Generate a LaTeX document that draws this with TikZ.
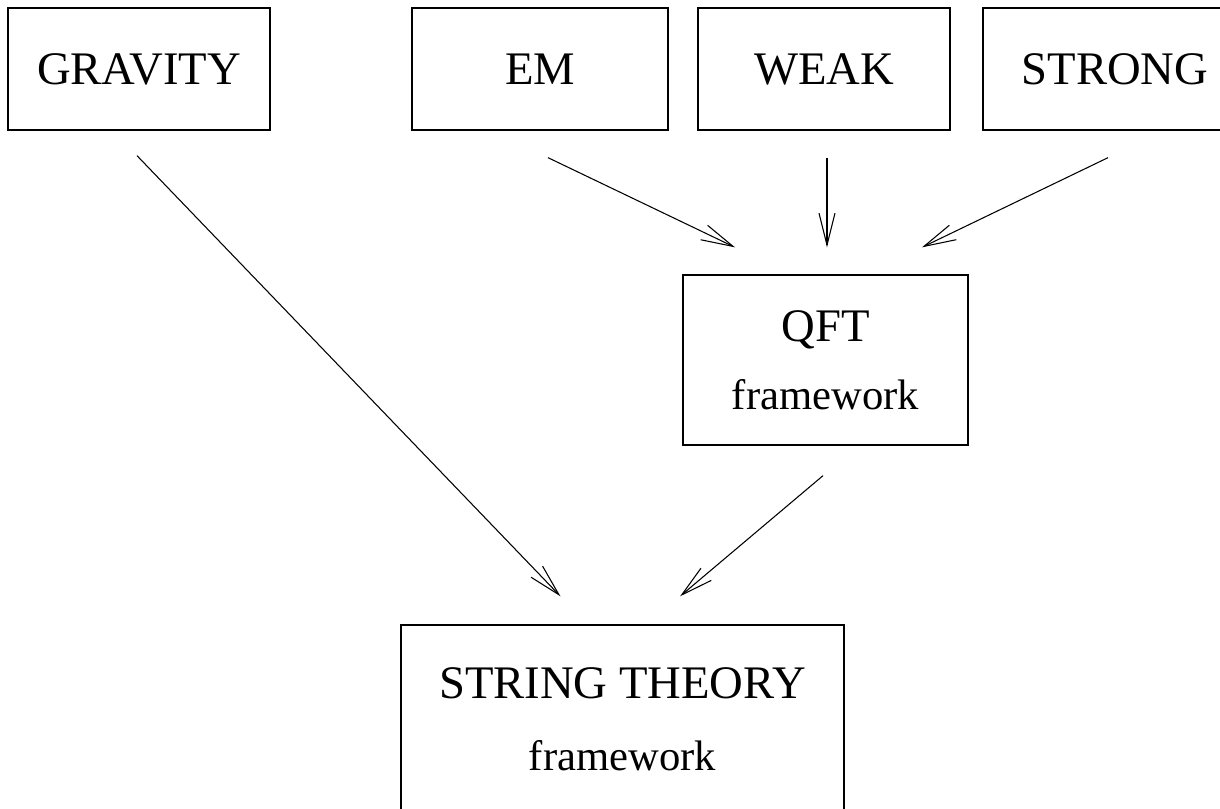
\documentclass[tikz,border=0pt]{standalone}
\usepackage{fontspec}
\setmainfont{Liberation Serif}
\usetikzlibrary{calc,arrows.meta}

\tikzset{
  forcebox/.style={draw, line width=1pt, inner sep=0pt, align=center,
    font=\fontsize{35}{42}\selectfont},
  arr/.style={line width=0.8pt, -{Straight Barb[length=24pt,width=12pt,line width=0.8pt]}}
}

\begin{document}
\begin{tikzpicture}[x=0.75pt,y=0.75pt,yscale=-1,xscale=1]
		\useasboundingbox (0,0) rectangle (1220,809);
		
		% top row: the four forces
		\node [forcebox, minimum width=262*0.75pt, minimum height=122*0.75pt] (gravity) at (139,69) {GRAVITY};
		\node [forcebox, minimum width=256*0.75pt, minimum height=122*0.75pt] (em) at (540,69) {EM};
		\node [forcebox, minimum width=252*0.75pt, minimum height=122*0.75pt] (weak) at (824,69) {WEAK};
		\node [forcebox, minimum width=264*0.75pt, minimum height=122*0.75pt] (strong) at (1115,69) {STRONG};
		
		% frameworks
		\node [forcebox, minimum width=285*0.75pt, minimum height=170*0.75pt] (qft) at (825.5,360) {QFT\\[9pt]{\fontsize{32}{38}\selectfont framework}};
		\node [forcebox, minimum width=443*0.75pt, minimum height=188*0.75pt] (string) at (622.5,719) {STRING THEORY\\[12pt]{\fontsize{32}{38}\selectfont framework}};
		
		% arrows
		\draw [arr] ($(gravity.south)+(-2,25)$) -- ($(string.north)+(-62,-28)$);
		\draw [arr] ($(em.south)+(8,27)$) -- ($(qft.north)+(-90.5,-27)$);
		\draw [arr] ($(weak.south)+(3,27)$) -- ($(qft.north)+(1.5,-27)$);
		\draw [arr] ($(strong.south)+(-7,27)$) -- ($(qft.north)+(96.5,-27)$);
		\draw [arr] ($(qft.south)+(-2.5,30)$) -- ($(string.north)+(57.5,-28)$);
		
\end{tikzpicture}
\end{document}
